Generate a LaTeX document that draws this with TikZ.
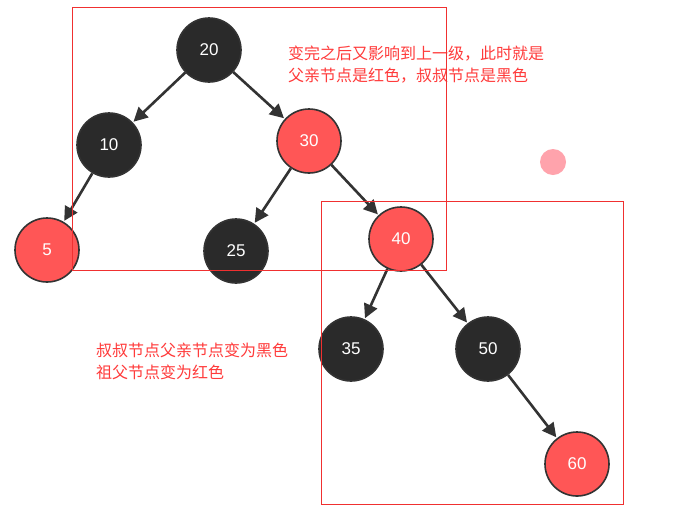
\documentclass[tikz,border=0pt]{standalone}
\usepackage{fontspec}
\setmainfont{Liberation Sans}
\newfontfamily\cjk{Noto Sans CJK SC}
\usetikzlibrary{arrows.meta}
\definecolor{nodeblack}{HTML}{2A2A2A}
\definecolor{nodered}{HTML}{FF5656}
\definecolor{edgegray}{HTML}{333333}
\definecolor{txtred}{HTML}{FF3B3B}
\definecolor{boxred}{HTML}{F03030}
\definecolor{dotpink}{HTML}{FFA3AC}
\tikzset{
  tn/.style={circle, minimum size=64pt, inner sep=0pt, draw=edgegray, line width=1.6pt,
    text=white, font=\fontsize{17}{17}\selectfont},
  bn/.style={tn, fill=nodeblack},
  rn/.style={tn, fill=nodered},
  edge/.style={draw=edgegray, line width=2.6pt, -{Triangle[length=14pt,width=14pt]}, shorten >=1pt},
  note/.style={text=txtred, align=left, anchor=north west, inner sep=0pt,
    font=\cjk\fontsize{16}{22}\selectfont},
  frame/.style={draw=boxred, line width=1pt}
}
\begin{document}
\begin{tikzpicture}[x=1pt,y=-1pt]
\useasboundingbox (0,0) rectangle (684,531);
\fill[white] (0,0) rectangle (684,531);
\node[bn] (n20) at (209,50) {20};
\node[bn] (n10) at (109,145) {10};
\node[rn] (n30) at (309,141) {30};
\node[rn] (n5) at (47,250) {5};
\node[bn] (n25) at (236,251) {25};
\node[rn] (n40) at (401,239) {40};
\node[bn] (n35) at (351,349) {35};
\node[bn] (n50) at (488,349) {50};
\node[rn] (n60) at (577,464) {60};
\draw[edge] (n20) -- (n10);
\draw[edge] (n20) -- (n30);
\draw[edge] (n10) -- (n5);
\draw[edge] (n30) -- (n25);
\draw[edge] (n30) -- (n40);
\draw[edge] (n40) -- (n35);
\draw[edge] (n40) -- (n50);
\draw[edge] (n50) -- (n60);
\fill[dotpink] (553,162) circle (13);
\node[note] (t1) at (288,46) {变完之后又影响到上一级，此时就是\\父亲节点是红色，叔叔节点是黑色};
\node[note] (t2) at (96,343) {叔叔节点父亲节点变为黑色\\祖父节点变为红色};
\draw[frame] (72,7) rectangle (446,270);
\draw[frame] (321,201) rectangle (623,504);
\end{tikzpicture}
\end{document}
